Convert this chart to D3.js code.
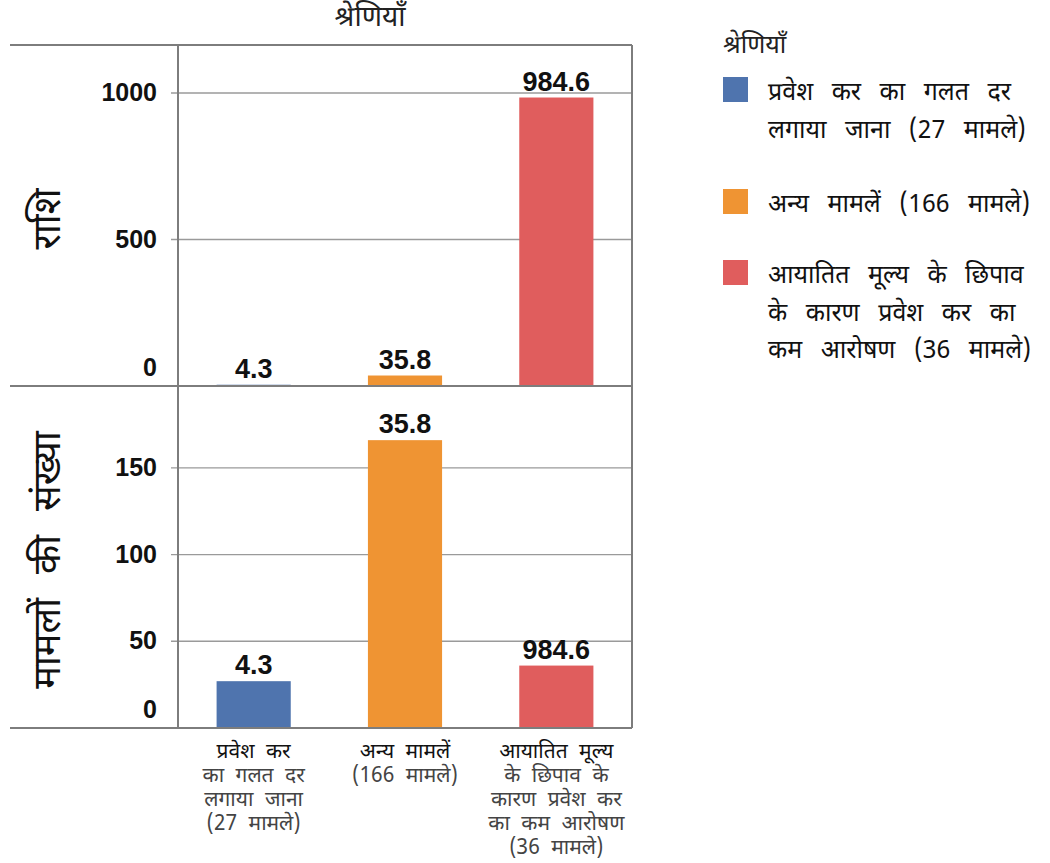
<!DOCTYPE html>
<html>
<head>
<meta charset="utf-8">
<script src="https://cdn.jsdelivr.net/npm/d3@7"></script>
<style>
  body { margin: 0; background: #fff; }
  svg { display: block; font-family: "Noto Sans Devanagari", "Noto Sans", "Liberation Sans", sans-serif; }
</style>
</head>
<body>
<svg id="chart" width="1050" height="863"></svg>
<script>
// ---- data ----
var categories = ["cat1", "cat2", "cat3"];
var amounts = [4.3, 35.8, 984.6];
var caseCounts = [27, 166, 36];
var barLabels = ["4.3", "35.8", "984.6"]; // both panels show the amount labels
var amountTicks = [0, 500, 1000];
var caseTicks = [0, 50, 100, 150];
var colours = ["#4f74ae", "#ef9433", "#e05d5d"];
var xLabelLines = [
  ["प्रवेश कर", "का गलत दर", "लगाया जाना", "(27 मामले)"],
  ["अन्य मामलें", "(166 मामले)"],
  ["आयातित मूल्य", "के छिपाव के", "कारण प्रवेश कर", "का कम आरोषण", "(36 मामले)"]
];
var legendLines = [
  ["प्रवेश कर का गलत दर", "लगाया जाना (27 मामले)"],
  ["अन्य मामलें (166 मामले)"],
  ["आयातित मूल्य के छिपाव", "के कारण प्रवेश कर का", "कम आरोषण (36 मामले)"]
];
var titleText = "श्रेणियाँ";
var panelTitles = ["राशि", "मामलों की संख्या"];

// ---- layout ----
var svg = d3.select("#chart");
var left = 178, right = 632, outerLeft = 10;
var top1 = 45, base1 = 386, base2 = 728;
var lineCol = "#7d7d7d";

var x = d3.scaleBand().domain(categories).range([left, right]).paddingInner(0.51).paddingOuter(0.255);

var y1 = d3.scaleLinear().domain([0, 1000]).range([base1, 93]);
var y2 = d3.scaleLinear().domain([0, 50]).range([base2, 641.3]);

svg.append("text")
  .attr("x", 370).attr("y", 26)
  .attr("text-anchor", "middle")
  .style("font-size", "28px").style("fill", "#222")
  .text(titleText);

function drawPanel(y, ticks, values, baseY, title, titleY) {
  var g = svg.append("g");
  // grid + tick stubs
  g.selectAll("line.grid").data(ticks.filter(function(t){ return t > 0; }))
    .enter().append("line")
    .attr("x1", left - 7).attr("x2", right)
    .attr("y1", function(d){ return y(d); }).attr("y2", function(d){ return y(d); })
    .style("stroke", "#9a9a9a").style("stroke-width", 1.4);
  // tick labels (the zero label sits a little above the baseline)
  g.selectAll("text.tick").data(ticks)
    .enter().append("text")
    .attr("x", 157)
    .attr("y", function(d){ return d === 0 ? y(d) - 10 : y(d) + 8; })
    .attr("text-anchor", "end")
    .style("font-family", "'Liberation Sans', Arial, sans-serif")
    .style("font-weight", "bold").style("font-size", "25px").style("fill", "#111")
    .text(function(d){ return d; });
  // bars
  g.selectAll("rect").data(values)
    .enter().append("rect")
    .attr("x", function(d, i){ return x(categories[i]); })
    .attr("width", x.bandwidth())
    .attr("y", function(d){ return y(d); })
    .attr("height", function(d){ return baseY - y(d); })
    .style("fill", function(d, i){ return colours[i]; });
  // value labels
  g.selectAll("text.val").data(values)
    .enter().append("text")
    .attr("x", function(d, i){ return x(categories[i]) + x.bandwidth() / 2; })
    .attr("y", function(d){ return y(d) - 7; })
    .attr("text-anchor", "middle")
    .style("font-family", "'Liberation Sans', Arial, sans-serif")
    .style("font-weight", "bold").style("font-size", "27px").style("fill", "#111")
    .text(function(d, i){ return barLabels[i]; });
  // panel title
  svg.append("text")
    .attr("transform", "translate(60," + titleY + ") rotate(-90)")
    .attr("text-anchor", "middle")
    .style("font-size", "38px").style("word-spacing", "14px").style("fill", "#111")
    .text(title);
}

drawPanel(y1, amountTicks, amounts, base1, panelTitles[0], 219);
drawPanel(y2, caseTicks, caseCounts, base2, panelTitles[1], 560);

// frame lines
[top1, base1, base2].forEach(function(yy){
  svg.append("line").attr("x1", outerLeft).attr("x2", right).attr("y1", yy).attr("y2", yy)
    .style("stroke", lineCol).style("stroke-width", 2);
});
[left, right].forEach(function(xx){
  svg.append("line").attr("x1", xx).attr("x2", xx).attr("y1", top1).attr("y2", base2)
    .style("stroke", lineCol).style("stroke-width", 2);
});

// category labels, one tspan per line
xLabelLines.forEach(function(lines, i){
  var t = svg.append("text")
    .attr("text-anchor", "middle")
    .style("font-size", "21px").style("word-spacing", "6px");
  lines.forEach(function(l, j){
    t.append("tspan")
      .attr("x", x(categories[i]) + x.bandwidth() / 2)
      .attr("y", 758 + j * 24)
      .style("fill", j === 0 ? "#111" : "#444")
      .text(l);
  });
});

// legend
var lg = svg.append("g");
lg.append("text").attr("x", 723).attr("y", 53)
  .style("font-size", "25px").style("fill", "#222").text(titleText);
var legendBase = [100, 212, 283];
legendLines.forEach(function(lines, i){
  lg.append("rect").attr("x", 723).attr("y", legendBase[i] - 23)
    .attr("width", 25).attr("height", 25).style("fill", colours[i]);
  var t = lg.append("text").style("font-size", "25px").style("fill", "#111")
    .style("word-spacing", "12px");
  lines.forEach(function(l, j){
    t.append("tspan").attr("x", 768).attr("y", legendBase[i] + j * 37.5).text(l);
  });
});
</script>
</body>
</html>
